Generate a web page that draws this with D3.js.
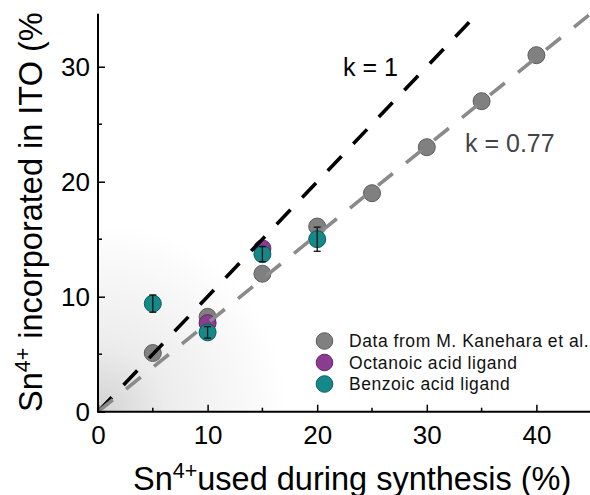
<!DOCTYPE html>
<html>
<head>
<meta charset="utf-8">
<script src="https://cdn.jsdelivr.net/npm/d3@7"></script>
<style>
  html, body { margin: 0; padding: 0; background: #fff; }
  svg { display: block; }
  text { font-family: "Liberation Sans", Arial, Helvetica, sans-serif; }
</style>
</head>
<body>
<script>
// ---- data ----
const kanX = [5, 10, 15, 20, 25, 30, 35, 40];
const kanY = [5.1, 8.25, 12.0, 16.1, 19.0, 23.0, 27.0, 31.0];
const octX = [10, 15];
const octY = [7.7, 14.2];
const benX = [5, 10, 15, 20];
const benY = [9.4, 6.9, 13.7, 15.0];
const benErr = [0.75, 0.5, 0.65, 1.05];
const fitK = [1, 0.77];
const fitLabels = ["k = 1", "k = 0.77"];
const xMajor = [0, 10, 20, 30, 40];
const xMinor = [5, 15, 25, 35];
const yMajor = [0, 10, 20, 30];
const yMinor = [5, 15, 25];
const legendNames = ["Data from M. Kanehara et al.", "Octanoic acid ligand", "Benzoic acid ligand"];

const W = 590, H = 495;
const x = d3.scaleLinear().domain([0, 45]).range([98, 591.2]);
const y = d3.scaleLinear().domain([0, 34.6]).range([411.7, 13.8]);

const svg = d3.select("body").append("svg").attr("width", W).attr("height", H);
const defs = svg.append("defs");
const grad = defs.append("radialGradient").attr("id", "bg")
  .attr("gradientUnits", "userSpaceOnUse")
  .attr("cx", x(0)).attr("cy", y(0)).attr("r", 190);
grad.append("stop").attr("offset", 0).attr("stop-color", "#d2d2d2");
grad.append("stop").attr("offset", 0.35).attr("stop-color", "#ececec");
grad.append("stop").attr("offset", 1).attr("stop-color", "#ffffff");

svg.append("rect").attr("x", x(0)).attr("y", y(34.6))
  .attr("width", x(45) - x(0)).attr("height", y(0) - y(34.6))
  .attr("fill", "url(#bg)");

// markers
const colors = {
  kan: { fill: "#808080", stroke: "#5e5e5e" },
  oct: { fill: "#8b3c91", stroke: "#5e2662" },
  ben: { fill: "#15898a", stroke: "#0c5a5b" }
};
const R = 8.5;
function drawSeries(xs, ys, c) {
  svg.append("g").selectAll("circle").data(xs).join("circle")
    .attr("cx", (d) => x(d)).attr("cy", (d, i) => y(ys[i])).attr("r", R)
    .attr("fill", c.fill).attr("stroke", c.stroke).attr("stroke-width", 1);
}
drawSeries(kanX, kanY, colors.kan);
drawSeries(octX, octY, colors.oct);
drawSeries(benX, benY, colors.ben);

// error bars
const eb = svg.append("g").attr("stroke", "#111").attr("stroke-width", 1.3);
benX.forEach((d, i) => {
  const cx = x(d), y1 = y(benY[i] + benErr[i]), y2 = y(benY[i] - benErr[i]);
  eb.append("line").attr("x1", cx).attr("x2", cx).attr("y1", y1).attr("y2", y2);
  eb.append("line").attr("x1", cx - 3.5).attr("x2", cx + 3.5).attr("y1", y1).attr("y2", y1);
  eb.append("line").attr("x1", cx - 3.5).attr("x2", cx + 3.5).attr("y1", y2).attr("y2", y2);
});

// fit lines
const lineStyles = [
  { stroke: "#000", width: 3.6, dash: "20,17", xEnd: 34.6 },
  { stroke: "#8a8a8a", width: 3.6, dash: "19,17", xEnd: 45 }
];
fitK.forEach((k, i) => {
  const s = lineStyles[i];
  const line = d3.line().x((d) => x(d)).y((d) => y(k * d));
  svg.append("path").datum([0, s.xEnd]).attr("d", line)
    .attr("fill", "none").attr("stroke", s.stroke).attr("stroke-width", s.width)
    .attr("stroke-dasharray", s.dash);
});

// k labels
svg.append("text").attr("x", 343).attr("y", 76).attr("font-size", 25).attr("fill", "#000").text(fitLabels[0]);
svg.append("text").attr("x", 465).attr("y", 152).attr("font-size", 25).attr("fill", "#444").text(fitLabels[1]);

// axes
const xAxis = d3.axisBottom(x).tickValues(xMajor).tickSize(-7).tickPadding(14).tickFormat(d3.format("d"));
const gx = svg.append("g").attr("transform", `translate(0,${y(0)})`).call(xAxis);
gx.select(".domain").remove();
gx.selectAll(".tick line").attr("stroke", "#000").attr("stroke-width", 1.5);
gx.selectAll(".tick text").attr("font-size", 26).attr("fill", "#000")
  .attr("font-family", '"Liberation Sans", Arial, sans-serif').attr("dy", "0.71em");
xMinor.forEach((d) => gx.append("line").attr("x1", x(d)).attr("x2", x(d)).attr("y1", 0).attr("y2", -4)
  .attr("stroke", "#000").attr("stroke-width", 1.5));
gx.append("line").attr("x1", x(0)).attr("x2", W).attr("y1", 0).attr("y2", 0)
  .attr("stroke", "#000").attr("stroke-width", 2);

const yAxis = d3.axisLeft(y).tickValues(yMajor).tickSize(-7).tickPadding(8).tickFormat(d3.format("d"));
const gy = svg.append("g").attr("transform", `translate(${x(0)},0)`).call(yAxis);
gy.select(".domain").remove();
gy.selectAll(".tick line").attr("stroke", "#000").attr("stroke-width", 1.5);
gy.selectAll(".tick text").attr("font-size", 26).attr("fill", "#000")
  .attr("font-family", '"Liberation Sans", Arial, sans-serif');
yMinor.forEach((d) => gy.append("line").attr("x1", 0).attr("x2", 4).attr("y1", y(d)).attr("y2", y(d))
  .attr("stroke", "#000").attr("stroke-width", 1.5));
gy.append("line").attr("x1", 0).attr("x2", 0).attr("y1", y(34.6)).attr("y2", y(0) + 1)
  .attr("stroke", "#000").attr("stroke-width", 2);

// axis titles
const xt = svg.append("text").attr("x", 133).attr("y", 490).attr("font-size", 32.5).attr("fill", "#000");
xt.append("tspan").text("Sn");
xt.append("tspan").attr("font-size", 21.5).attr("dy", -12).text("4+");
xt.append("tspan").attr("dy", 12).text("used during synthesis (%)");

const yt = svg.append("text").attr("transform", "translate(42,412) rotate(-90)")
  .attr("font-size", 32.5).attr("fill", "#000");
yt.append("tspan").text("Sn");
yt.append("tspan").attr("font-size", 21.5).attr("dy", -12).text("4+");
yt.append("tspan").attr("dy", 12).text(" incorporated in ITO (%");

// legend
const legColors = [colors.kan, colors.oct, colors.ben];
const lg = svg.append("g");
legendNames.forEach((n, i) => {
  const cy = 341 + i * 21.5;
  lg.append("circle").attr("cx", 324.5).attr("cy", cy).attr("r", 8.3)
    .attr("fill", legColors[i].fill).attr("stroke", legColors[i].stroke).attr("stroke-width", 1);
  lg.append("text").attr("x", 349).attr("y", cy + 6).attr("font-size", 17.5)
    .attr("letter-spacing", 0.55).attr("fill", "#111").text(n);
});
</script>
</body>
</html>
